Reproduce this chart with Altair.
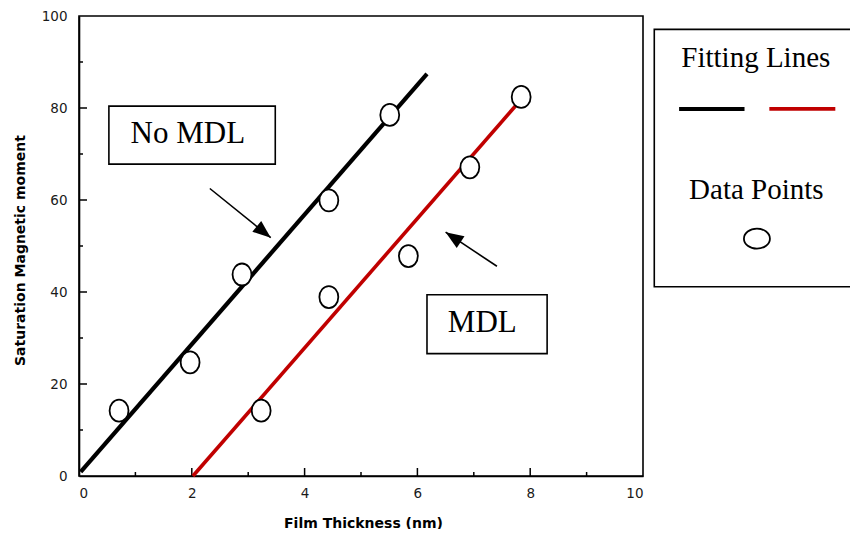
import altair as alt
import pandas as pd

# ---- data ----
no_mdl_x = [0.71, 1.97, 2.89, 4.43, 5.51]
no_mdl_y = [14.2, 24.7, 43.8, 59.9, 78.5]
mdl_x = [3.23, 4.43, 5.84, 6.93, 7.84]
mdl_y = [14.2, 38.9, 47.8, 67.1, 82.4]

fit_no_x = [0.03, 6.17]
fit_no_y = [0.9, 87.4]
fit_mdl_x = [2.02, 7.85]
fit_mdl_y = [0.0, 82.0]

x_major = [2, 4, 6, 8]
x_minor = [1, 3, 5, 7, 9]
y_major = [20, 40, 60, 80]
y_minor = [10, 30, 50, 70, 90]

x_labels = [0, 2, 4, 6, 8, 10]
y_labels = [0, 20, 40, 60, 80, 100]

# annotation boxes (data coordinates)
box_labels = ["No MDL", "MDL"]
box_x1 = [0.53, 6.17]
box_x2 = [3.48, 8.30]
box_y1 = [67.8, 26.6]
box_y2 = [80.4, 39.4]
box_tx = [1.93, 7.15]
box_ty = [74.3, 33.3]

# arrows: tail -> tip
arr_x = [2.32, 7.41]
arr_y = [62.5, 45.6]
arr_x2 = [3.40, 6.50]
arr_y2 = [51.8, 53.0]
arr_angle = [129.1, 303.5]

# legend box
leg_text = ["Fitting Lines", "Data Points"]
leg_tx = [12.0, 12.01]
leg_ty = [90.9, 62.1]

FONT_SERIF = "Liberation Serif"
FONT_SANS = "DejaVu Sans"
RED = "#c00000"

H = 460
W = 564

xs = alt.Scale(domain=[0, 10], nice=False, zero=False)
ys = alt.Scale(domain=[0, 100], nice=False, zero=False)

x_axis = alt.Axis(values=x_labels, format="d", title="Film Thickness (nm)",
                  ticks=False, grid=False, labelPadding=10,
                  titleX=284, titleY=47, titleBaseline="middle", titleAlign="center")
y_axis = alt.Axis(values=y_labels, format="d", title="Saturation Magnetic moment",
                  ticks=False, grid=False, labelPadding=12,
                  titleX=-59, titleY=234, titleAngle=270,
                  titleBaseline="middle", titleAlign="center")


def X(f="x"):
    return alt.X(f"{f}:Q", scale=xs, axis=x_axis)


def Y(f="y"):
    return alt.Y(f"{f}:Q", scale=ys, axis=y_axis)


pts = pd.DataFrame({"x": no_mdl_x + mdl_x, "y": no_mdl_y + mdl_y})
fit_no = pd.DataFrame({"x": fit_no_x, "y": fit_no_y})
fit_mdl = pd.DataFrame({"x": fit_mdl_x, "y": fit_mdl_y})
boxes = pd.DataFrame({"label": box_labels, "x": box_x1, "x2": box_x2,
                      "y": box_y1, "y2": box_y2, "tx": box_tx, "ty": box_ty})
arrows = pd.DataFrame({"x": arr_x, "y": arr_y, "x2": arr_x2, "y2": arr_y2,
                       "ang": arr_angle})
legend_txt = pd.DataFrame({"label": leg_text, "x": leg_tx, "y": leg_ty})
legend_box = pd.DataFrame({"x": [10.2], "x2": [14.5], "y": [41.15], "y2": [97.1]})
legend_lines = pd.DataFrame({"x": [10.64, 12.24], "x2": [11.80, 13.41],
                             "y": [79.8, 79.8], "c": ["black", RED],
                             "w": [4.0, 3.6]})
legend_pt = pd.DataFrame({"x": [12.02], "y": [51.6]})

base_y_ticks_major = alt.Chart(pd.DataFrame({"y": y_major})).mark_rule(
    color="black", strokeWidth=1.5).encode(y=Y(), x=alt.value(0), x2=alt.value(8))
base_y_ticks_minor = alt.Chart(pd.DataFrame({"y": y_minor})).mark_rule(
    color="black", strokeWidth=1.5).encode(y=Y(), x=alt.value(0), x2=alt.value(4))
base_x_ticks_major = alt.Chart(pd.DataFrame({"x": x_major})).mark_rule(
    color="black", strokeWidth=1.5).encode(x=X(), y=alt.value(H), y2=alt.value(H - 8))
base_x_ticks_minor = alt.Chart(pd.DataFrame({"x": x_minor})).mark_rule(
    color="black", strokeWidth=1.5).encode(x=X(), y=alt.value(H), y2=alt.value(H - 4))

line_no = alt.Chart(fit_no).mark_line(color="black", strokeWidth=4.2, strokeCap="butt").encode(
    x=X(), y=Y())
line_mdl = alt.Chart(fit_mdl).mark_line(color=RED, strokeWidth=3.6, strokeCap="butt").encode(
    x=X(), y=Y())

ELLIPSE_TALL = "M-0.86,0A0.86,1,0,1,1,0.86,0A0.86,1,0,1,1,-0.86,0Z"
ELLIPSE_WIDE = "M-1,0A1,0.77,0,1,1,1,0A1,0.77,0,1,1,-1,0Z"

points = alt.Chart(pts).mark_point(shape=ELLIPSE_TALL, size=484, filled=True,
                                   fill="white", stroke="black", strokeWidth=1.8,
                                   opacity=1).encode(x=X(), y=Y())

box_rect = alt.Chart(boxes).mark_rect(fill="white", stroke="black", strokeWidth=1.6).encode(
    x=X(), x2="x2:Q", y=Y(), y2="y2:Q")
box_text = alt.Chart(boxes).mark_text(font=FONT_SERIF, fontSize=31, color="black",
                                      align="center", baseline="middle").encode(
    x=X("tx"), y=Y("ty"), text="label:N")

arrow_line = alt.Chart(arrows).mark_rule(color="black", strokeWidth=1.6).encode(
    x=X(), y=Y(), x2="x2:Q", y2="y2:Q")
arrow_head = alt.Chart(arrows).mark_point(shape="M0,0L0.78,2L-0.78,2Z", size=324,
                                          filled=True, color="black", opacity=1).encode(
    x=X("x2"), y=Y("y2"), angle=alt.Angle("ang:Q", scale=None))

leg_rect = alt.Chart(legend_box).mark_rect(fill="white", stroke="black", strokeWidth=1.6).encode(
    x=X(), x2="x2:Q", y=Y(), y2="y2:Q")
leg_lines = alt.Chart(legend_lines).mark_rule(strokeCap="butt").encode(
    x=X(), x2="x2:Q", y=Y(),
    color=alt.Color("c:N", scale=None),
    strokeWidth=alt.StrokeWidth("w:Q", scale=None))
leg_text_m = alt.Chart(legend_txt).mark_text(font=FONT_SERIF, fontSize=29, color="black",
                                             align="center", baseline="middle").encode(
    x=X(), y=Y(), text="label:N")
leg_pt = alt.Chart(legend_pt).mark_point(shape=ELLIPSE_WIDE, size=676, filled=True,
                                         fill="white", stroke="black", strokeWidth=1.8,
                                         opacity=1).encode(x=X(), y=Y())

chart = alt.layer(
    base_y_ticks_major, base_y_ticks_minor, base_x_ticks_major, base_x_ticks_minor,
    line_no, line_mdl, points,
    box_rect, box_text, arrow_line, arrow_head,
    leg_rect, leg_lines, leg_text_m, leg_pt,
).properties(
    width=W, height=H,
    autosize=alt.AutoSizeParams(type="none"),
    padding={"left": 71, "top": 8, "right": 207, "bottom": 53},
).configure_view(
    stroke="black", strokeWidth=1.6
).configure_axis(
    domainColor="black", domainWidth=1.6,
    labelFont=FONT_SANS, labelFontSize=13.5, labelColor="#1a1a1a",
    titleFont=FONT_SANS, titleFontSize=14, titleFontWeight="bold", titleColor="black",
)

chart.save("out.html", embed_options={"renderer": "svg", "actions": False})
